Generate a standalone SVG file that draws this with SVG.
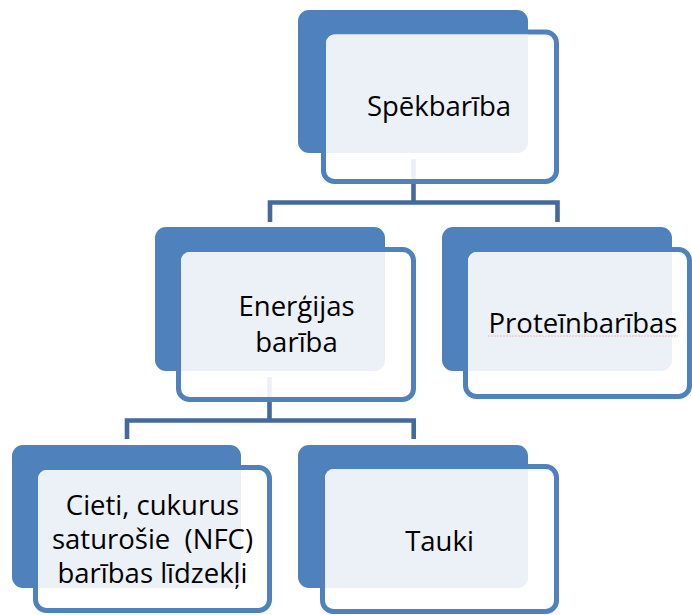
<svg xmlns="http://www.w3.org/2000/svg" width="692" height="615" viewBox="0 0 692 615">
  <style>
    .back { fill: #4F81BD; }
    .front { fill: #FFFFFF; fill-opacity: 0.9; stroke: #4F81BD; stroke-width: 5; }
    .tint { fill: #ECF0F7; }
    .conn { fill: none; stroke: #44699C; stroke-width: 4.6; stroke-linejoin: miter; }
    .label { font-family: "Open Sans", "Noto Sans", "DejaVu Sans", sans-serif; font-size: 27.5px; fill: #000000; text-anchor: middle; }
  </style>

  <!-- connectors, drawn beneath the nodes -->
  <g id="connectors">
    <path class="conn" d="M413.5,159 V202.5"/>
    <path class="conn" d="M270,222 V202.5 H557.5 V222"/>
    <path class="conn" d="M269.5,377 V420.5"/>
    <path class="conn" d="M127,439 V420.5 H413.7 V439"/>
  </g>

  <g id="node-spekbariba">
    <rect class="back" x="298" y="10" width="230" height="143" rx="11"/>
    <rect class="front" x="323.5" y="32" width="233" height="149.5" rx="11"/>
    <path class="tint" d="M326,43 A9,9 0 0 1 335,34.5 H528 V142 A11,11 0 0 1 517,153 H326 Z"/>
    <text class="label" x="439" y="116">Spēkbarība</text>
  </g>

  <g id="node-energijas">
    <rect class="back" x="155" y="227" width="230" height="144" rx="11"/>
    <rect class="front" x="178.5" y="249.5" width="235" height="150" rx="11"/>
    <path class="tint" d="M181,261 A9,9 0 0 1 190,252 H385 V360 A11,11 0 0 1 374,371 H181 Z"/>
    <text class="label" x="296.5" y="316">Enerģijas</text>
    <text class="label" x="296.5" y="352">barība</text>
  </g>

  <g id="node-proteinbaribas">
    <rect class="back" x="442" y="227" width="230" height="144" rx="11"/>
    <rect class="front" x="465.5" y="249.5" width="224" height="147" rx="11"/>
    <path class="tint" d="M468,261 A9,9 0 0 1 477,252 H672 V360 A11,11 0 0 1 661,371 H468 Z"/>
    <text class="label" x="583" y="333">Proteīnbarības</text>
    <path d="M488,336 H678" fill="none" stroke="#F2B8B8" stroke-width="1" stroke-dasharray="2 1"/>
  </g>

  <g id="node-cieti">
    <rect class="back" x="12" y="445" width="229" height="143" rx="11"/>
    <rect class="front" x="35.5" y="467.5" width="234" height="143" rx="11"/>
    <path class="tint" d="M38,479 A9,9 0 0 1 47,470 H241 V577 A11,11 0 0 1 230,588 H38 Z"/>
    <text class="label" x="152.5" y="515">Cieti, cukurus</text>
    <text class="label" x="152.5" y="549" style="white-space: pre">saturošie  (NFC)</text>
    <text class="label" x="152.5" y="583">barības līdzekļi</text>
  </g>

  <g id="node-tauki">
    <rect class="back" x="298" y="445" width="230" height="143" rx="11"/>
    <rect class="front" x="322.5" y="466.5" width="234" height="145" rx="11"/>
    <path class="tint" d="M325,478 A9,9 0 0 1 334,469 H528 V577 A11,11 0 0 1 517,588 H325 Z"/>
    <text class="label" x="439.5" y="551">Tauki</text>
  </g>
</svg>
